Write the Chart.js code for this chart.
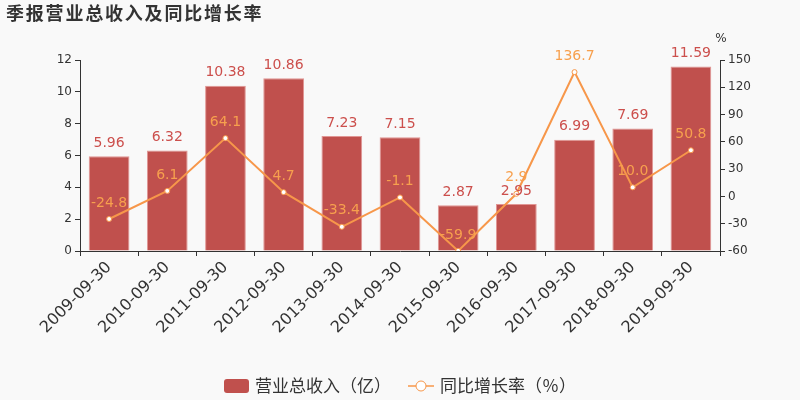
<!DOCTYPE html>
<html>
<head>
<meta charset="utf-8">
<script src="https://cdn.jsdelivr.net/npm/chart.js@4/dist/chart.umd.min.js"></script>
<style>
html,body{margin:0;padding:0;background:#f9f9f9;}
#wrap{width:800px;height:400px;}
</style>
</head>
<body>
<div id="wrap"><canvas id="c" width="800" height="400"></canvas></div>
<script>
const categories = ['2009-09-30','2010-09-30','2011-09-30','2012-09-30','2013-09-30','2014-09-30','2015-09-30','2016-09-30','2017-09-30','2018-09-30','2019-09-30'];
const revenue = [5.96,6.32,10.38,10.86,7.23,7.15,2.87,2.95,6.99,7.69,11.59];
const growth = [-24.8,6.1,64.1,4.7,-33.4,-1.1,-59.9,2.9,136.7,10.0,50.8];
const titleText = '季报营业总收入及同比增长率';
const revenueLabel = '营业总收入（亿）';
const growthLabel = '同比增长率（％）';

const BAR = '#c0504d';
const BAR_BORDER = 'rgba(225,150,148,1)';
const LINE = '#f7974a';
const LINE_LABEL = '#f7a04e';
const TXT = '#333333';
const CJK = '"Noto Sans CJK SC","Noto Sans",sans-serif';
const LAT = '"DejaVu Sans",sans-serif';

const bgPlugin = {
  id:'bg',
  beforeDraw(chart){
    const ctx = chart.ctx;
    ctx.save();
    ctx.fillStyle = '#f9f9f9';
    ctx.fillRect(0,0,chart.width,chart.height);
    ctx.restore();
  }
};

const decoPlugin = {
  id:'deco',
  afterDatasetsDraw(chart){
    const ctx = chart.ctx;
    ctx.save();
    const mb = chart.getDatasetMeta(1);
    ctx.font = '14px ' + LAT;
    ctx.textAlign = 'center';
    ctx.textBaseline = 'bottom';
    ctx.fillStyle = '#cc4f4c';
    mb.data.forEach((el,i)=>{
      ctx.fillText(revenue[i].toFixed(2), el.x, el.y - 6);
    });
    const ml = chart.getDatasetMeta(0);
    ctx.fillStyle = LINE_LABEL;
    ml.data.forEach((el,i)=>{
      ctx.fillText(growth[i].toFixed(1), el.x, el.y - 9);
    });
    ctx.restore();
  },
  afterDraw(chart){
    const ctx = chart.ctx;
    ctx.save();
    ctx.fillStyle = TXT;
    ctx.font = 'bold 18px ' + CJK;
    ctx.textAlign = 'left';
    ctx.textBaseline = 'middle';
    try { ctx.letterSpacing = '1.8px'; } catch(e){}
    ctx.fillText(titleText, 6, 13);
    try { ctx.letterSpacing = '0px'; } catch(e){}
    const ra = chart.scales.y1;
    ctx.font = '12px ' + LAT;
    ctx.textAlign = 'center';
    ctx.fillText('%', ra.left + 1, 39);
    const ly = 386;
    ctx.fillStyle = BAR;
    ctx.beginPath();
    if (ctx.roundRect) ctx.roundRect(224, ly-7, 25, 14, 3); else ctx.rect(224, ly-7, 25, 14);
    ctx.fill();
    ctx.fillStyle = TXT;
    ctx.font = '17px ' + CJK;
    ctx.textAlign = 'left';
    ctx.textBaseline = 'middle';
    ctx.fillText(revenueLabel, 255, ly);
    ctx.strokeStyle = LINE;
    ctx.lineWidth = 1.5;
    ctx.beginPath(); ctx.moveTo(408, ly); ctx.lineTo(434, ly); ctx.stroke();
    ctx.beginPath(); ctx.arc(421, ly, 5, 0, Math.PI*2);
    ctx.fillStyle = '#ffffff'; ctx.fill(); ctx.lineWidth = 1; ctx.stroke();
    ctx.fillStyle = TXT;
    ctx.fillText(growthLabel, 440, ly);
    ctx.restore();
  }
};

new Chart(document.getElementById('c'), {
  data: {
    labels: categories,
    datasets: [
      {
        type:'line', label: growthLabel, data: growth, yAxisID:'y1', order:0,
        borderColor: LINE, borderWidth: 2, tension: 0,
        pointRadius: 2.5, pointBackgroundColor:'#ffffff', pointBorderColor: LINE, pointBorderWidth:1
      },
      {
        type:'bar', label: revenueLabel, data: revenue, yAxisID:'y', order:1,
        backgroundColor: BAR, borderColor: BAR_BORDER, borderWidth: 1,
        categoryPercentage: 1.0, barPercentage: 0.7
      }
    ]
  },
  options: {
    responsive:false, animation:false,
    layout:{ padding:{ top:60, left:0, right:0, bottom:0 } },
    plugins:{ legend:{display:false}, tooltip:{enabled:false}, title:{display:false} },
    scales:{
      x:{
        type:'category', offset:true,
        grid:{ offset:true, drawOnChartArea:false, drawTicks:true, tickLength:5, color:TXT },
        border:{ color:TXT, width:1 },
        ticks:{ color:TXT, font:{ family:'DejaVu Sans', size:16 }, minRotation:45, maxRotation:45, padding:2 },
        afterFit(s){ s.height = 149; }
      },
      y:{
        position:'left', min:0, max:12,
        grid:{ drawOnChartArea:false, drawTicks:true, tickLength:5, color:TXT },
        border:{ color:TXT, width:1 },
        ticks:{ stepSize:2, color:TXT, font:{ family:'DejaVu Sans', size:12 }, padding:3 },
        afterFit(s){ s.width = 80; }
      },
      y1:{
        position:'right', min:-60, max:150,
        grid:{ drawOnChartArea:false, drawTicks:true, tickLength:5, color:TXT },
        border:{ color:TXT, width:1 },
        ticks:{ stepSize:30, color:TXT, font:{ family:'DejaVu Sans', size:12 }, padding:3 },
        afterFit(s){ s.width = 80; }
      }
    }
  },
  plugins:[bgPlugin, decoPlugin]
});
</script>
</body>
</html>
